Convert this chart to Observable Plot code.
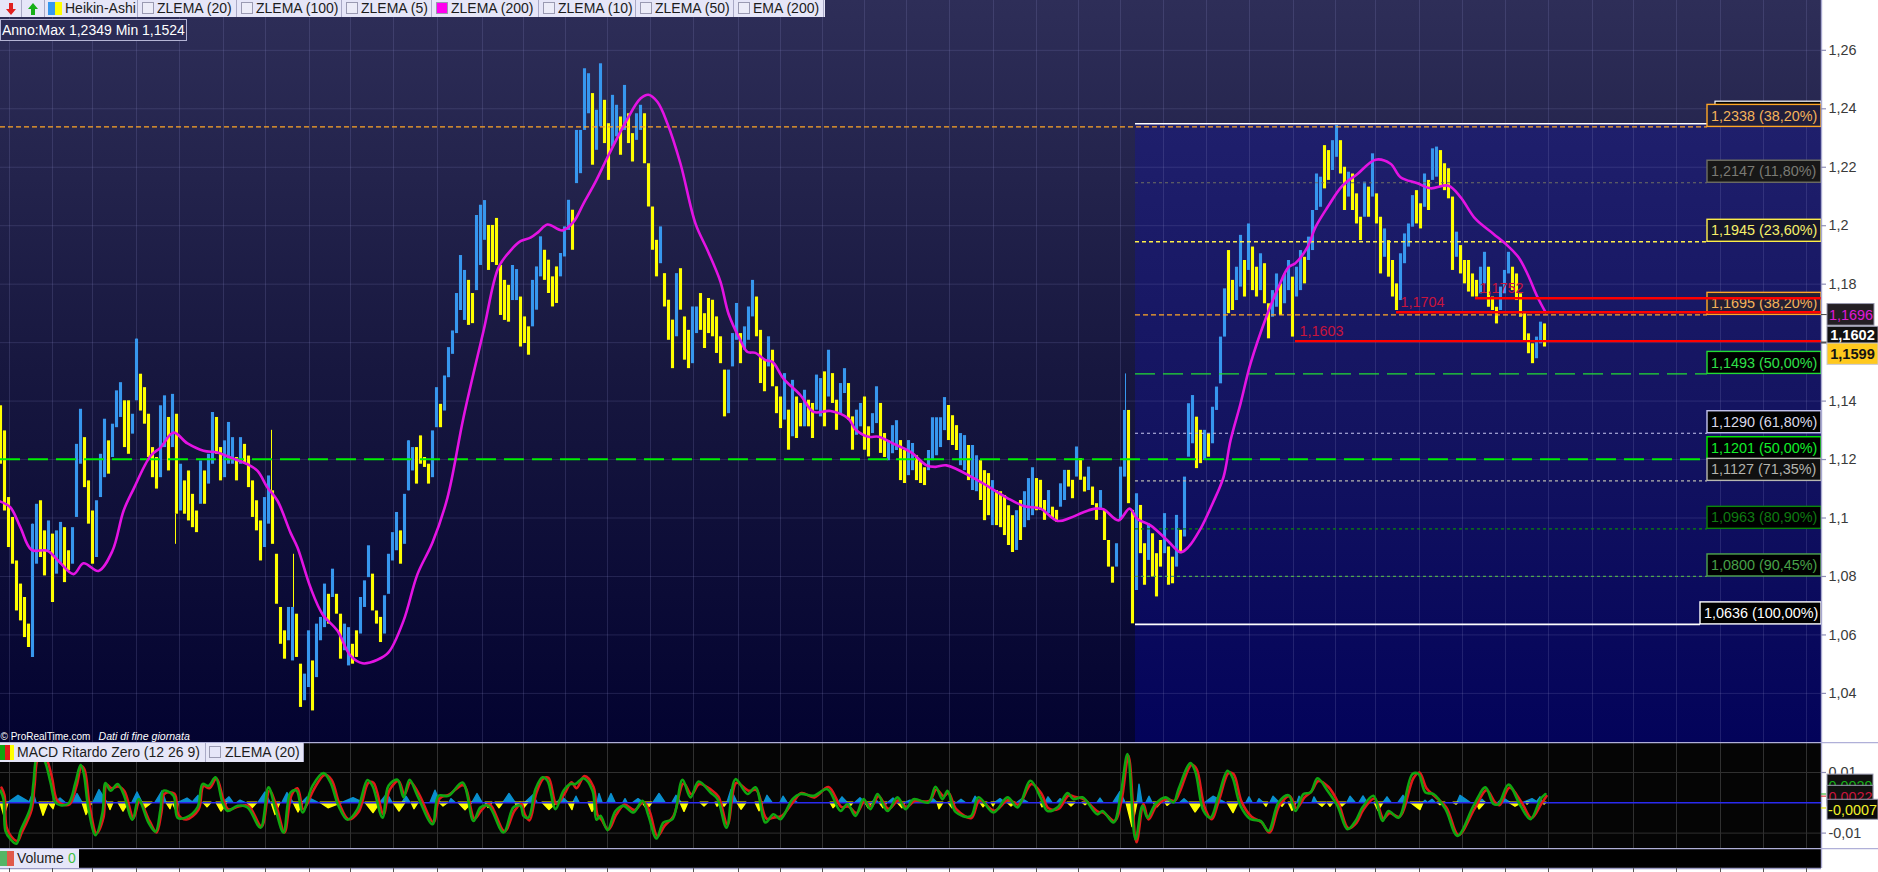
<!DOCTYPE html>
<html><head><meta charset="utf-8">
<script src="https://cdn.jsdelivr.net/npm/d3@7"></script>
<script src="https://cdn.jsdelivr.net/npm/@observablehq/plot@0.6"></script>
<style>
html,body{margin:0;padding:0;background:#fff;overflow:hidden;width:1878px;height:872px}
#stage{position:relative;width:1878px;height:872px;font-family:"Liberation Sans",Arial,sans-serif}
#stage svg{display:block;max-width:none}
.strip{position:absolute;background:#e6e6f8;color:#1c1c1c;font-size:14px;line-height:17px;white-space:nowrap}
.cell{position:absolute;top:0;height:100%;border-right:1px solid #a9a9c6;box-sizing:border-box;overflow:hidden}
.cell span.t{position:absolute;top:0}
.sw{position:absolute;box-sizing:border-box}
</style></head><body><div id="stage"></div>
<script>
// Heikin-Ashi bars, one every 4 session units, prices in 1/10000
const barHigh=[
11384,11298,11070,11002,10853,10774,10728,10637,10979,11047,
11059,10956,10990,10945,10956,10985,10967,10888,10967,11252,
11372,11275,11127,11024,11059,11218,11338,11264,11321,11435,
11463,11401,11401,11355,11612,11492,11446,11355,11241,11207,
11384,11418,11344,11423,11355,11184,11127,11161,11081,11024,
11195,11161,11218,11361,11344,11241,11264,11327,11275,11207,
11275,11252,11212,11127,11059,10990,11070,11144,11093,10876,
10694,10614,10694,10694,10671,10500,10466,10614,10511,10637,
10660,10774,10739,10825,10739,10671,10637,10625,10568,10614,
10728,10785,10905,10808,10682,10660,10734,10876,10950,11019,
10956,11081,11264,11241,11241,11281,11207,11184,11298,11446,
11389,11486,11583,11640,11768,11898,11847,11813,11768,12035,
12070,12086,12001,12001,12025,11864,11813,11796,11864,11850,
11756,11688,11654,11813,11859,11962,11916,11882,11825,11859,
11905,11996,12087,12053,12326,12326,12537,12520,12452,12395,
12554,12429,12349,12446,12412,12372,12480,12383,12315,12383,
12412,12383,12212,12064,11950,11996,11836,11745,11677,11836,
11853,11688,11642,11722,11722,11768,11699,11751,11745,11688,
11620,11506,11506,11631,11734,11631,11654,11722,11813,11756,
11642,11540,11620,11574,11449,11414,11494,11369,11471,11414,
11392,11437,11403,11392,11489,11477,11500,11574,11494,11403,
11460,11511,11460,11346,11369,11392,11414,11312,11357,11449,
11392,11289,11265,11316,11333,11265,11231,11265,11255,11213,
11196,11172,11231,11343,11343,11343,11412,11385,11350,11316,
11289,11282,11248,11248,11213,11196,11162,11152,11128,11094,
11090,11077,11042,11008,11025,11060,11090,11135,11172,11135,
11129,11060,11094,11037,11026,11117,11163,11163,11129,11243,
11203,11140,11174,11106,11049,11094,11026,10923,10832,10912,
11174,11368,11368,11026,11083,11043,10912,10980,10946,10878,
10923,11015,10901,10866,11009,10958,11140,11391,11419,11345,
11300,11300,11288,11379,11448,11619,11784,11915,11813,11858,
11967,11881,12006,11927,11858,11904,11870,11733,11778,11835,
11801,11835,11881,11824,11858,11915,11892,11961,12052,12177,
12166,12274,12257,12291,12343,12291,12200,12183,12177,12109,
12029,12149,12132,12246,12109,12029,11989,11949,11881,11801,
11904,11972,12006,12103,12120,12075,12177,12155,12263,12269,
12257,12212,12195,12098,11978,11932,11881,11881,11835,11813,
11858,11909,11858,11756,11721,11790,11847,11909,11858,11835,
11767,11699,11630,11596,11619,11670,11664];
const barLow=[
11184,11024,10899,10842,10682,10648,10591,10557,10523,10842,
10865,10802,10888,10711,10808,10842,10779,10819,10842,11002,
11184,11104,10979,10842,10865,11070,11138,11150,11207,11309,
11344,11241,11218,11287,11401,11366,11321,11207,11138,11099,
11138,11241,11161,11241,11013,11024,11013,10990,10967,10950,
11047,11047,11116,11184,11218,11127,11138,11184,11184,11127,
11184,11184,11104,11002,10956,10853,10899,10979,10910,10705,
10568,10517,10580,10511,10523,10352,10375,10420,10340,10454,
10580,10625,10637,10728,10671,10517,10546,10494,10500,10523,
10603,10694,10796,10682,10637,10574,10603,10739,10853,10888,
10842,10910,11093,11161,11116,11184,11173,11116,11138,11309,
11309,11366,11480,11560,11631,11710,11676,11659,11665,11778,
11864,11950,11847,11874,11864,11693,11676,11670,11744,11744,
11585,11597,11557,11654,11711,11825,11813,11768,11722,11734,
11825,11893,11984,11916,12144,12178,12326,12383,12207,12258,
12338,12281,12155,12269,12304,12241,12326,12281,12218,12292,
12326,12212,12064,11916,11825,11870,11722,11608,11511,11620,
11711,11540,11511,11528,11631,11642,11580,11631,11620,11563,
11528,11346,11357,11517,11608,11528,11574,11608,11688,11620,
11460,11432,11517,11449,11357,11306,11335,11232,11278,11272,
11312,11312,11312,11272,11369,11346,11312,11414,11392,11300,
11357,11426,11335,11232,11283,11312,11232,11209,11289,11323,
11221,11207,11196,11220,11231,11128,11118,11145,11162,11128,
11118,11111,11162,11196,11213,11241,11299,11265,11248,11231,
11179,11162,11128,11094,11090,11060,10991,11008,10974,10974,
10967,10940,10906,10882,10889,10923,10967,10991,11008,11025,
11026,10992,11015,10998,10986,11037,11060,11106,11066,11140,
11129,11089,11094,11043,10992,11026,10923,10832,10777,10832,
10992,11140,11049,10638,10752,10878,10770,10855,10798,10730,
10832,10878,10770,10775,10832,10878,10935,11208,11254,11169,
11186,11197,11208,11254,11368,11459,11619,11699,11710,11744,
11790,11756,11847,11778,11756,11778,11733,11613,11687,11721,
11693,11733,11778,11619,11756,11778,11801,11881,11915,12052,
12063,12126,12155,12189,12234,12177,12052,12098,12052,12006,
11949,12029,12029,12098,12006,11835,11892,11824,11756,11710,
11744,11870,11927,11995,12006,11989,12063,12052,12155,12166,
12132,12120,12092,11847,11892,11835,11801,11773,11756,11756,
11767,11801,11721,11710,11664,11710,11767,11835,11778,11744,
11687,11607,11562,11528,11545,11596,11585];
const barColor=
"YYYYYYYYBB"+"YYBYBBYYBB"+"BYYYBBBYBB"+"BYYBBYYYYY"+"BBYBYBYYYY"+"BYBBYYBBBY"+"BYYYYYBBYY"+"YYBBYYBBYB"+
"BBYBYYBBYY"+"BBBYYYBBBB"+"YBBBYYYYBB"+"YBBBBBBYYB"+"BBYYYYYYBB"+"YYYBBBYYYY"+"BBBYBBBBYB"+"BYYBBYBYYB"+
"BYYYYBYYYB"+"YYYBBYYYYY"+"YYBBBYBBBY"+"YYBYYYBYBY"+"YBYYBBYBYY"+"BBYYBBYYBB"+"YYBBBYYBBY"+"YYBBBBBYYY"+
"BBYBBYYYBY"+"YYYYBYBBBY"+"YYBYYBBYYB"+"YYBYYBYYYB"+"BBYYBYYBYY"+"YBYYBYBBBY"+"YBYBBBBYYB"+"BYBYYBYYBB"+
"YBBYBBYBBB"+"BYYBBYYBYY"+"YBYBYYBYYY"+"BBBBYYBYBB"+"YYYYBYYYYY"+"BBYYYBBBYY"+"YYYYBBY";
// Thin wicks
const wickX=[271,175,293,1125,32,136,408];
const wickHigh=[11300,11013,10876,11493,10979,11612,11264];
const wickLow=[11093,10910,10694,11368,10523,11500,11093];
const wickColor=["Y","Y","Y","B","B","B","B"];

// ZLEMA (200)
const zlemaX=[0,10,20,31,47,58,73,83,98,112,123,133,150,160,173,187,203,217,230,247,257,267,277,290,297,310,322,337,350,362,377,388,403,417,432,447,463,483,498,510,520,530,538,547,562,573,583,595,608,627,640,648,657,667,680,695,707,720,728,740,747,755,765,772,783,800,813,830,848,855,868,878,893,911,926,935,946,976,1006,1024,1040,1057,1070,1083,1095,1103,1118,1129,1137,1150,1167,1180,1188,1200,1212,1223,1230,1240,1250,1267,1278,1288,1295,1307,1315,1327,1342,1357,1375,1390,1400,1417,1430,1448,1460,1475,1493,1507,1518,1527,1537,1545];
const zlemaV=[11056,11036,10967,10891,10888,10853,10808,10845,10819,10888,11024,11099,11212,11241,11292,11255,11230,11224,11207,11184,11161,11104,11059,10950,10899,10762,10671,10614,10529,10503,10515,10540,10648,10808,10916,11070,11344,11640,11857,11915,11947,11959,11979,12004,11984,12013,12076,12150,12241,12366,12435,12448,12423,12349,12212,12007,11916,11808,11699,11608,11568,11565,11540,11534,11477,11420,11363,11366,11340,11303,11278,11278,11254,11224,11180,11175,11180,11131,11070,11040,11032,10990,11001,11020,11032,11030,10992,11032,10997,10975,10923,10883,10901,10963,11049,11140,11265,11391,11528,11699,11790,11858,11872,11927,11995,12063,12137,12177,12226,12212,12166,12145,12128,12137,12098,12023,11972,11932,11892,11835,11756,11704];

// Fibonacci levels
const levelValue=[1.2338,1.2147,1.1945,1.1695,1.1493,1.1290,1.1201,1.1127,1.0963,1.0800,1.0636];
const levelText=["1,2338 (38,20%)","1,2147 (11,80%)","1,1945 (23,60%)","1,1695 (38,20%)","1,1493 (50,00%)","1,1290 (61,80%)","1,1201 (50,00%)","1,1127 (71,35%)","1,0963 (80,90%)","1,0800 (90,45%)","1,0636 (100,00%)"];
const levelColor=["#ffa726","#6f6f63","#ffef4a","#ffa726","#22dd33","#c6c6f0","#00f000","#b8b8b0","#0a860a","#4fa54f","#ffffff"];
const levelTextColor=["#f5b35a","#7a7a74","#f7f06a","#f5b35a","#2fe04a","#d8d8e8","#12ee2a","#b4b4ae","#0f7a12","#48a048","#ffffff"];
const levelFill=["#201e3c","#171717","#15152b","#241f34","#000","#000","#000","#101010","#000","#000","#000"];
const levelDash=["5,3","3,3","4,3","5,3","20,8","3,3","20,8","3,3","3,3","3,3","none"];
const levelStart=[0,1135,1135,1135,1135,1135,0,1135,1135,1135,1135];
const levelWidth=[1.2,1.2,1.4,1.2,1.4,1.2,1.8,1.2,1.2,1.2,1.6];

// Support lines
const redValue=[1.1752,1.1704,1.1605];
const redStart=[1475,1396,1295];
const redLabel=["1,1752","1,1704","1,1603"];

// Axis
const priceTicks=[1.26,1.24,1.22,1.2,1.18,1.16,1.14,1.12,1.1,1.08,1.06,1.04];
const priceLabelTicks=[1.26,1.24,1.22,1.2,1.18,1.14,1.12,1.1,1.08,1.06,1.04];
const priceTickLabels=["1,26","1,24","1,22","1,2","1,18","1,14","1,12","1,1","1,08","1,06","1,04"];
const gridX=[9,52,92,136,179,223,265,309,350,393,437,482,523,565,607,650,693,738,780,822,864,906,949,993,1036,1078,1120,1163,1206,1249,1293,1335,1375,1419,1462,1505,1548,1592,1633,1676,1720,1763,1806];

// MACD Ritardo Zero, in 1/10000
const macdX=[0,3,5,10,16,20,30,33,37,43,50,55,60,68,75,80,83,88,95,102,105,110,117,123,132,138,148,155,160,163,173,177,185,197,202,208,215,222,227,237,247,260,268,275,283,290,296,302,312,323,330,338,347,357,367,372,382,388,397,403,409,417,432,438,448,462,473,480,488,503,513,520,523,528,535,542,547,555,563,570,575,583,592,596,600,607,615,623,633,642,648,656,663,672,682,690,698,710,717,726,735,747,755,765,773,780,792,800,813,827,840,847,855,863,870,877,887,897,905,913,928,935,942,947,955,970,978,993,1007,1017,1030,1040,1047,1057,1067,1073,1082,1097,1102,1113,1120,1127,1135,1142,1147,1155,1165,1173,1178,1190,1195,1203,1210,1218,1227,1232,1240,1250,1260,1268,1278,1288,1295,1303,1310,1317,1327,1337,1347,1355,1362,1373,1382,1388,1398,1412,1418,1425,1433,1445,1457,1473,1485,1493,1498,1508,1520,1530,1540,1545];
const macdGreen=[40,12,-93,-120,-135,-93,-15,67,156,145,67,1,-8,-2,67,125,101,-21,-107,-32,65,40,62,29,-56,12,-65,-95,-21,40,23,-49,-49,-15,62,56,84,1,-27,-10,-15,-82,51,-21,-98,34,40,-32,56,98,67,-10,-56,-21,75,56,-49,56,76,18,76,23,-71,23,23,67,-60,-15,-10,-98,-15,-10,-43,-49,45,84,73,-21,40,62,62,81,40,-56,-43,-90,-27,-10,-32,7,-43,-118,-65,-54,76,18,70,34,12,-82,78,29,51,-65,-38,-54,12,29,23,45,-27,-4,-43,12,-21,29,-27,18,-21,12,1,53,12,40,-30,-45,18,-32,18,-15,73,18,-27,-15,32,12,18,-38,-27,-65,23,161,-120,-10,-49,-4,18,1,45,131,101,-27,-49,23,106,84,-10,-54,-60,-93,1,25,-27,29,34,81,40,-10,-87,-60,-15,23,-60,-27,-49,95,95,34,29,-21,-109,-10,51,-4,-4,60,-10,-54,12,29];
const macdRed=[50,25,-80,-112,-126,-100,-24,55,150,155,90,12,-4,-5,55,120,110,-5,-100,-48,60,48,54,38,-50,5,-60,-98,-30,30,30,-40,-55,-22,55,48,80,10,-22,-12,-10,-78,40,-12,-98,25,48,-22,42,92,76,-4,-54,-30,66,66,-38,42,72,28,68,32,-64,14,28,58,-52,-24,-4,-94,-26,-4,-36,-58,34,80,82,-4,30,68,48,88,52,-40,-56,-88,-38,-6,-24,2,-28,-110,-76,-44,64,28,62,42,20,-72,66,40,42,-52,-48,-44,4,32,18,52,-14,-12,-34,4,-12,22,-20,8,-14,6,6,44,22,32,-22,-50,8,-26,10,-6,62,30,-18,-20,24,20,12,-30,-32,-60,8,155,-130,-4,-55,-10,12,6,34,125,112,-14,-54,14,98,95,4,-46,-64,-98,-8,22,-18,18,38,72,52,-2,-84,-66,-22,14,-52,-34,-46,82,100,48,22,-16,-106,-20,42,4,-8,50,2,-50,-2,22];

// MACD histogram bumps: start, peak, end, value (1/10000)
const histBlue=[[8,18,30,23],[29,33,36,34],[55,60,65,14],[72,77,82,29],[93,99,107,42],[132,137,142,34],[155,162,166,38],[178,187,193,14],[192,198,201,23],[223,229,233,18],[237,240,245,7],[258,265,270,34],[282,287,293,32],[302,307,318,18],[342,353,363,15],[380,387,392,29],[402,406,410,20],[430,435,440,40],[449,451,455,12],[472,477,482,29],[503,509,515,29],[525,533,537,25],[557,562,568,18],[573,576,579,20],[597,599,602,29],[607,611,615,29],[623,625,627,12],[633,638,643,12],[653,659,665,29],[672,676,681,23],[727,731,737,42],[764,767,772,23],[780,783,787,20],[790,793,797,12],[838,842,847,18],[855,860,865,15],[872,875,878,12],[888,893,897,14],[905,910,915,7],[928,933,937,12],[957,961,965,10],[972,975,980,20],[995,1000,1005,12],[1017,1022,1028,12],[1045,1048,1052,18],[1057,1060,1065,12],[1097,1100,1103,14],[1113,1120,1125,36],[1137,1139,1142,60],[1146,1149,1152,20],[1165,1168,1173,12],[1180,1184,1188,12],[1205,1213,1225,20],[1240,1241,1242,7],[1246,1249,1252,18],[1257,1259,1263,12],[1270,1273,1279,20],[1297,1299,1303,20],[1312,1314,1317,18],[1347,1350,1355,20],[1359,1363,1367,21],[1383,1387,1391,18],[1398,1403,1408,23],[1423,1425,1427,7],[1428,1432,1435,10],[1457,1460,1470,23],[1478,1482,1485,10],[1498,1503,1510,15],[1523,1532,1538,12],[1536,1540,1542,18]];
const histYellow=[[0,4,8,-45],[39,43,48,-43],[48,53,55,-21],[82,86,92,-40],[107,110,113,-24],[118,123,128,-29],[140,145,152,-18],[166,170,172,-21],[172,177,178,-34],[203,207,211,-15],[216,221,227,-29],[247,252,257,-18],[271,275,280,-40],[293,298,303,-32],[320,328,342,-18],[365,373,380,-34],[393,399,405,-29],[411,414,418,-21],[439,443,448,-12],[458,465,472,-25],[485,488,492,-17],[495,499,503,-18],[515,517,520,-18],[520,523,528,-21],[542,549,557,-24],[568,572,574,-24],[588,592,597,-30],[642,647,652,-23],[680,684,688,-30],[700,704,708,-12],[715,717,720,-13],[722,724,727,-13],[737,741,746,-23],[755,759,763,-28],[830,833,838,-18],[847,850,853,-13],[865,868,872,-18],[879,883,887,-18],[897,902,905,-18],[937,939,943,-21],[948,952,955,-18],[980,983,987,-15],[991,993,995,-12],[1007,1011,1015,-12],[1040,1042,1045,-15],[1067,1071,1075,-12],[1082,1085,1088,-8],[1126,1132,1137,-80],[1153,1157,1161,-15],[1165,1167,1171,-10],[1189,1195,1202,-32],[1227,1233,1238,-34],[1263,1266,1268,-13],[1279,1282,1285,-13],[1288,1292,1296,-27],[1317,1322,1326,-13],[1327,1330,1333,-13],[1338,1342,1346,-12],[1374,1378,1383,-27],[1410,1420,1423,-24],[1437,1440,1445,-8],[1453,1456,1458,-6],[1476,1479,1485,-22],[1509,1515,1522,-13],[1526,1527,1529,-6],[1543,1544,1546,-6]];
const macdTicks=[0.01,-0.01];
const macdTickLabels=["0,01","-0,01"];

// Legend
const topLegend=[["ZLEMA (20)",139,237,"box"],["ZLEMA (100)",238,342,"box"],["ZLEMA (5)",343,432,"box"],["ZLEMA (200)",433,539,"mag"],["ZLEMA (10)",540,636,"box"],["ZLEMA (50)",637,734,"box"],["EMA (200)",735,824,"box"]];

const FONT='"Liberation Sans",Arial,sans-serif';
const PANEL=1821, W=1878;
const stage=document.getElementById("stage");
const xScale={domain:[0,W],range:[0,W],axis:null};

function defs(html){return ()=>{const g=d3.create("svg:defs");g.html(html);return g.node();};}
const bars=barHigh.map((h,i)=>({x:i*4,hi:h/1e4,lo:barLow[i]/1e4,c:barColor[i]}));
const barCol={Y:"#ffff00",B:"#3797ee"};
const wicks=wickX.map((x,i)=>({x,hi:wickHigh[i]/1e4,lo:wickLow[i]/1e4,c:barCol[wickColor[i]]}));
const zlema=zlemaX.map((x,i)=>({x,v:zlemaV[i]/1e4}));
const BOX=0.00753;
const levels=levelValue.map((v,i)=>({v,text:levelText[i],color:levelColor[i],tc:levelTextColor[i],fill:levelFill[i],dash:levelDash[i],start:levelStart[i],w:levelWidth[i],left:i===10?1700:1707}));

const main=Plot.plot({
  width:W,height:742,margin:0,
  style:{background:"transparent",fontFamily:FONT},
  x:xScale,
  y:{domain:[1.02320,1.27705],range:[742,0],axis:null},
  marks:[
    defs(`<linearGradient id="bgG" x1="0" y1="0" x2="0" y2="1"><stop offset="0" stop-color="#2e2e58"/><stop offset=".5" stop-color="#17173f"/><stop offset="1" stop-color="#030330"/></linearGradient>
          <linearGradient id="boxG" x1="0" y1="0" x2="0" y2="1"><stop offset="0" stop-color="#1f1f6c"/><stop offset=".5" stop-color="#131360"/><stop offset="1" stop-color="#03035a"/></linearGradient>`),
    Plot.rect([0],{x1:0,x2:PANEL,y1:1.02320,y2:1.27705,fill:"url(#bgG)"}),
    Plot.rect([0],{x1:1135,x2:PANEL,y1:1.02320,y2:1.2349,fill:"url(#boxG)"}),
    Plot.ruleX(gridX.filter(x=>x<PANEL),{stroke:"#8a8ac8",strokeOpacity:.2,strokeWidth:1}),
    Plot.ruleY(priceTicks,{x1:0,x2:PANEL,stroke:"#8a8ac8",strokeOpacity:.2,strokeWidth:1}),
    // bars
    Plot.ruleX(wicks,{x:"x",y1:"lo",y2:"hi",stroke:"c",strokeWidth:1}),
    Plot.ruleX(bars,{x:"x",y1:"lo",y2:"hi",stroke:d=>barCol[d.c],strokeWidth:3.1}),
    // levels
    ...levels.map(d=>Plot.ruleY([d.v],{x1:d.start,x2:d.left,stroke:d.color,strokeWidth:d.w,strokeDasharray:d.dash==="none"?undefined:d.dash})),
    Plot.ruleY([1.2349],{x1:1135,x2:1707,stroke:"#fff",strokeWidth:1.6}),
    // zlema
    Plot.line(zlema,{x:"x",y:"v",stroke:"#e313e3",strokeWidth:2.6,curve:"catmull-rom"}),
    // level boxes
    Plot.rect([0],{x1:1715,x2:PANEL,y1:1.2349,y2:1.2349+BOX,fill:"#000",stroke:"#fff",strokeWidth:1.2}),
    ...levels.map(d=>Plot.rect([d],{x1:d.left,x2:PANEL,y1:d.v,y2:d.v+BOX,fill:d.fill,stroke:d.color,strokeWidth:1.4})),
    Plot.text(levels,{x:d=>d.left+3.5,y:d=>d.v+BOX/2,text:"text",fill:"tc",textAnchor:"start",fontSize:14.4,fontFamily:FONT}),
    // support lines
    Plot.ruleY(redValue.map((v,i)=>({v,s:redStart[i]})),{y:"v",x1:"s",x2:PANEL,stroke:"#ff0000",strokeWidth:2.4}),
    Plot.text(redValue.map((v,i)=>({v,s:redStart[i]+4,t:redLabel[i]})),{x:"s",y:d=>d.v+0.0035,text:"t",fill:"#c8143c",textAnchor:"start",fontSize:14.4,fontFamily:FONT}),
    // gutter
    Plot.rect([0],{x1:PANEL,x2:W,y1:1.02320,y2:1.27705,fill:"#ffffff"}),
    Plot.ruleX([PANEL],{stroke:"#a9a9d0",strokeWidth:1.4}),
    Plot.ruleY(priceTicks,{x1:PANEL,x2:1826,stroke:"#8f8fb8",strokeWidth:1.2}),
    Plot.text(priceLabelTicks,{x:1828,y:d=>d,text:(d,i)=>priceTickLabels[i],fill:"#3a3a3a",textAnchor:"start",fontSize:14.4,fontFamily:FONT,fontWeight:(d,i)=>(priceTickLabels[i].length===3?"bold":"normal")}),
    Plot.ruleY([1.1696,1.1602,1.1599],{x1:PANEL,x2:1827,stroke:"#444",strokeWidth:1}),
    Plot.rect([0],{x1:1827,x2:1874,y1:1.1696-0.0038,y2:1.1696+0.0036,fill:"#241f24",stroke:"#9a9ab0",strokeWidth:1}),
    Plot.text(["1,1696"],{x:1850.5,y:1.1694,fill:"#e018d8",fontSize:14.4,fontFamily:FONT}),
    Plot.rect([0],{x1:1827,x2:W,y1:1.1593,y2:1.1654,fill:"#111",stroke:"#9a9ab0",strokeWidth:1}),
    Plot.text(["1,1602"],{x:1852,y:1.1624,fill:"#fff",fontSize:14.6,fontWeight:"bold",fontFamily:FONT}),
    Plot.rect([0],{x1:1827,x2:W,y1:1.1524,y2:1.1597,fill:"#ffc91e",stroke:"#c9c9d8",strokeWidth:1}),
    Plot.text(["1,1599"],{x:1852,y:1.1560,fill:"#141414",fontSize:14.6,fontWeight:"bold",fontFamily:FONT}),
    // copyright
    Plot.text(["© ProRealTime.com"],{x:0,y:1.02320+0.0020,textAnchor:"start",fill:"#fff",fontSize:10,fontFamily:FONT}),
    Plot.text(["Dati di fine giornata"],{x:98,y:1.02320+0.0020,textAnchor:"start",fill:"#fff",fontSize:10.6,fontStyle:"italic",fontFamily:FONT})
  ]
});
main.style.position="absolute";main.style.left="0";main.style.top="0";
stage.appendChild(main);

// MACD panel
const mTop=0.0199,mBot=-0.01508;
const toPts=(arr,id)=>arr.flatMap((b,i)=>[{x:b[0],v:0,id:id+i},{x:b[1],v:b[3]/1e4,id:id+i},{x:b[2],v:0,id:id+i}]);
const macd=Plot.plot({
  width:W,height:106,margin:0,
  style:{background:"transparent",fontFamily:FONT},
  x:xScale,y:{domain:[mBot,mTop],range:[106,0],axis:null},
  marks:[
    Plot.rect([0],{x1:0,x2:PANEL,y1:mBot,y2:mTop,fill:"#050505"}),
    Plot.ruleX(gridX,{stroke:"#303030",strokeWidth:1}),
    Plot.ruleY(macdTicks,{x1:0,x2:PANEL,stroke:"#303030",strokeWidth:1}),
    Plot.areaY(toPts(histBlue,"b"),{x:"x",y:"v",z:"id",fill:"#0a8fcf",stroke:"#0a8fcf",strokeWidth:1.4}),
    Plot.areaY(toPts(histYellow,"y"),{x:"x",y:"v",z:"id",fill:"#ffff00",stroke:"#ffff00",strokeWidth:1.4}),
    Plot.ruleY([0],{x1:0,x2:PANEL,stroke:"#2a2af0",strokeWidth:1.6}),
    Plot.line(macdX.map((x,i)=>({x,v:macdRed[i]/1e4})),{x:"x",y:"v",dx:1,stroke:"#e01a1a",strokeWidth:2.6,curve:"catmull-rom"}),
    Plot.line(macdX.map((x,i)=>({x,v:macdGreen[i]/1e4})),{x:"x",y:"v",stroke:"#10a510",strokeWidth:2.6,curve:"catmull-rom"}),
    Plot.ruleX([PANEL],{stroke:"#a9a9d0",strokeWidth:1.4}),
    Plot.ruleY(macdTicks,{x1:PANEL,x2:1826,stroke:"#8f8fb8",strokeWidth:1.2}),
    Plot.text(macdTicks,{x:1828,y:d=>d,text:(d,i)=>macdTickLabels[i],fill:"#3a3a3a",textAnchor:"start",fontSize:14.4,fontFamily:FONT}),
    Plot.rect([0],{x1:1827,x2:1873,y1:-0.0002,y2:0.0093,fill:"#111",stroke:"#9a9ab0",strokeWidth:1}),
    Plot.text(["0,0029"],{x:1850,y:0.0055,fill:"#18b018",fontSize:14.4,fontFamily:FONT}),
    Plot.rect([0],{x1:1827,x2:1873,y1:-0.0010,y2:0.0056,fill:"#111",stroke:"#9a9ab0",strokeWidth:1}),
    Plot.text(["0,0022"],{x:1850,y:0.0019,fill:"#c8143c",fontSize:14.4,fontFamily:FONT}),
    Plot.ruleY([0.0029],{x1:PANEL,x2:1826,stroke:"#18b018",strokeWidth:1}),
    Plot.ruleY([0.0022],{x1:PANEL,x2:1826,stroke:"#e01a1a",strokeWidth:1}),
    Plot.ruleY([-0.0017],{x1:PANEL,x2:1826,stroke:"#e8e800",strokeWidth:1.2}),
    Plot.rect([0],{x1:1827,x2:W,y1:-0.0056,y2:0.0010,fill:"#0a0a0a",stroke:"#9a9ab0",strokeWidth:1}),
    Plot.text(["-0,0007"],{x:1852,y:-0.0024,fill:"#f2f22a",fontSize:14.4,fontFamily:FONT}),
    Plot.ruleY([mTop],{x1:0,x2:W,stroke:"#b0b0d8",strokeWidth:1.4})
  ]
});
macd.style.position="absolute";macd.style.left="0";macd.style.top="742px";
stage.appendChild(macd);

// Volume panel
const vol=Plot.plot({
  width:W,height:24,margin:0,
  style:{background:"transparent"},
  x:xScale,y:{domain:[0,24],range:[24,0],axis:null},
  marks:[
    Plot.rect([0],{x1:0,x2:PANEL,y1:4,y2:24,fill:"#000"}),
    Plot.ruleX([PANEL],{y1:4,y2:24,stroke:"#a9a9d0",strokeWidth:1.4}),
    Plot.ruleY([24],{x1:0,x2:W,stroke:"#b0b0d8",strokeWidth:1.4}),
    Plot.ruleY([4],{x1:0,x2:PANEL,stroke:"#9a9ac4",strokeWidth:1.4}),
    Plot.ruleX(gridX,{y1:0,y2:4,stroke:"#555",strokeWidth:1})
  ]
});
vol.style.position="absolute";vol.style.left="0";vol.style.top="848px";
stage.appendChild(vol);

// HTML legends
function el(tag,css,parent,text){const e=document.createElement(tag);e.style.cssText=css;if(text!=null)e.textContent=text;(parent||stage).appendChild(e);return e;}
const top1=el("div","left:0;top:0;width:825px;height:17px",null);top1.className="strip";
function cell(parent,l,r){const c=el("div",`left:${l}px;width:${r-l}px`,parent);c.className="cell";return c;}
function checkbox(c,fill){const s=el("div",`left:3px;top:2px;width:12px;height:12px;border:1px solid #9a9ab2;background:${fill||"#ececf8"}`,c);s.className="sw";}
function arrow(c,col,up){const s=d3.select(c).append("svg").attr("width",16).attr("height",15).style("position","absolute").style("left","3px").style("top","1px");
  s.append("path").attr("d",up?"M8 2 L13 8 L10 8 L10 14 L6 14 L6 8 L3 8Z":"M8 14 L13 8 L10 8 L10 2 L6 2 L6 8 L3 8Z").attr("fill",col);}
arrow(cell(top1,0,22),"#e02020",false);
arrow(cell(top1,22,45),"#18b018",true);
const ha=cell(top1,45,138);
el("div","left:3px;top:2px;width:7px;height:13px;background:#3797ee",ha).className="sw";
el("div","left:10px;top:2px;width:7px;height:13px;background:#ffff00",ha).className="sw";
el("span","left:20px",ha,"Heikin-Ashi").className="t";
topLegend.forEach(d=>{const c=cell(top1,d[1],d[2]);checkbox(c,d[3]==="mag"?"#ff00ee":null);el("span","left:18px",c,d[0]).className="t";});

const anno=el("div","position:absolute;left:0;top:19px;width:187px;height:22px;border:1px solid #b4b4d4;box-sizing:border-box;background:#2b2b55;color:#fff;font-size:14px;line-height:20px;padding-left:1px;white-space:nowrap",null,"Anno:Max 1,2349 Min 1,1524");

const m1=el("div","left:0;top:743px;width:304px;height:19px;line-height:19px",null);m1.className="strip";
const mc=cell(m1,0,206);
el("div","left:0;top:2px;width:5px;height:15px;background:#10a510",mc).className="sw";
el("div","left:5px;top:2px;width:5px;height:15px;background:#e01a1a",mc).className="sw";
el("div","left:10px;top:2px;width:4px;height:15px;background:#ffff00",mc).className="sw";
el("span","left:17px",mc,"MACD Ritardo Zero (12 26 9)").className="t";
const mz=cell(m1,206,304);
el("div","left:3px;top:3px;width:12px;height:12px;border:1px solid #9a9ab2",mz).className="sw";
el("span","left:19px",mz,"ZLEMA (20)").className="t";

const v1=el("div","left:0;top:849px;width:79px;height:19px;line-height:19px",null);v1.className="strip";
el("div","left:0;top:2px;width:7px;height:15px;background:#55b565",v1).className="sw";
el("div","left:7px;top:2px;width:7px;height:15px;background:#e05a4a",v1).className="sw";
el("span","position:absolute;left:17px;top:0",v1,"Volume ");
el("span","position:absolute;left:68px;top:0;color:#40c040",v1,"0");
</script>
</body></html>
